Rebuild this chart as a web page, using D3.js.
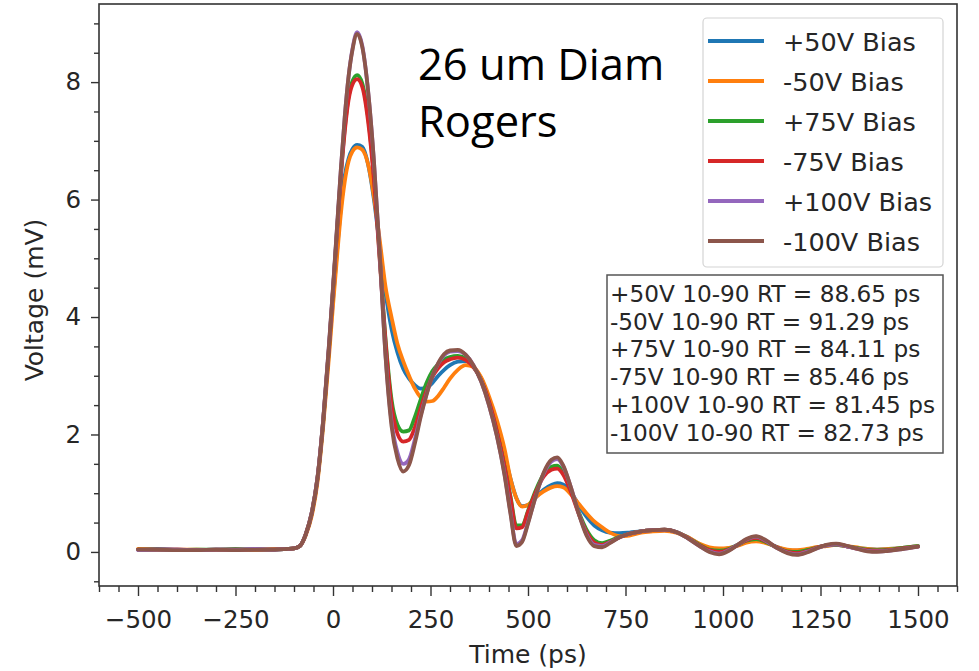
<!DOCTYPE html>
<html>
<head>
<meta charset="utf-8">
<script src="https://cdn.jsdelivr.net/npm/d3@7"></script>
<style>
  html, body { margin: 0; padding: 0; background: #fff; }
  svg { display: block; }
</style>
</head>
<body>
<svg id="chart" width="979" height="671"></svg>
<script>
// ---------- DATA ----------
const time = [-500,-450,-400,-350,-300,-250,-200,-150,-120,-100,-85,-70,-55,-40,-25,-10,
  0,10,20,30,40,50,62,75,90,105,120,135,150,165,180,195,210,225,240,255,270,285,300,
  320,340,360,380,400,420,440,455,470,485,500,520,540,560,575,590,610,630,650,670,690,710,735,760,790,820,
  850,880,910,940,965,990,1015,1040,1060,1085,1110,1140,1165,1190,1215,1240,1265,1290,1315,1340,1370,1395,1425,1460,1500];

const seriesNames = ["+50V Bias", "-50V Bias", "+75V Bias", "-75V Bias", "+100V Bias", "-100V Bias"];

const plus50 = [.04,.05,.04,.03,.04,.04,.05,.04,.05,.06,.1,.29,.63,1.22,2.2,3.45,
  4.3,5.1,5.85,6.4,6.7,6.86,6.93,6.9,6.6,6.0,5.2,4.4,3.8,3.4,3.12,2.95,2.84,2.78,2.8,2.88,3.0,3.1,3.18,
  3.24,3.25,3.15,2.95,2.6,2.15,1.65,1.25,0.92,0.78,0.8,0.93,1.06,1.14,1.17,1.15,1.02,0.8,0.6,0.45,0.37,0.33,0.32,0.33,0.35,0.36,
  .37,.34,.25,.13,.06,.04,.06,.12,.17,.2,.16,.08,.03,.02,.04,.08,.11,.12,.1,.07,.05,.04,.05,.07,.1];

const minus50 = [.05,.04,.04,.04,.03,.04,.04,.05,.05,.06,.1,.28,.6,1.18,2.15,3.35,
  4.2,5.0,5.75,6.3,6.65,6.82,6.89,6.85,6.6,6.05,5.3,4.5,4.0,3.55,3.25,3.0,2.78,2.63,2.56,2.57,2.66,2.8,2.95,
  3.1,3.18,3.15,2.97,2.65,2.25,1.75,1.25,0.92,0.77,0.8,0.93,1.03,1.1,1.12,1.1,0.98,0.82,0.66,0.52,0.42,0.33,0.27,0.28,0.33,0.35,
  .36,.33,.25,.14,.08,.06,.07,.11,.16,.18,.15,.08,.04,.03,.05,.08,.1,.12,.1,.08,.05,.04,.05,.07,.1];

const plus75 = [.04,.04,.03,.04,.04,.05,.04,.04,.05,.06,.1,.3,.65,1.25,2.25,3.5,
  4.45,5.45,6.4,7.2,7.75,8.02,8.12,7.98,7.4,6.4,5.0,3.6,2.6,2.17,2.05,2.07,2.3,2.6,2.88,3.08,3.2,3.28,3.32,
  3.34,3.3,3.16,2.92,2.55,2.05,1.45,0.95,0.45,0.45,0.7,1.05,1.32,1.45,1.47,1.36,1.05,0.68,0.38,0.2,0.15,0.19,0.26,0.31,0.35,0.37,
  .38,.34,.24,.12,.04,.02,.05,.13,.19,.22,.17,.07,.01,0,.03,.07,.11,.12,.1,.07,.04,.03,.04,.07,.1];

const minus75 = [.04,.04,.04,.03,.04,.04,.04,.04,.05,.06,.1,.3,.65,1.25,2.25,3.5,
  4.45,5.42,6.38,7.15,7.7,7.96,8.05,7.92,7.33,6.33,4.95,3.55,2.5,2.02,1.88,1.91,2.12,2.45,2.75,2.98,3.13,3.23,3.28,
  3.31,3.27,3.15,2.92,2.56,2.06,1.45,0.92,0.4,0.42,0.68,1.02,1.28,1.4,1.42,1.32,1.02,0.65,0.34,0.16,0.12,0.17,0.25,0.31,0.35,0.37,
  .38,.34,.24,.11,.03,0,.04,.13,.2,.24,.18,.07,0,-.02,.01,.07,.11,.13,.1,.06,.03,.02,.03,.06,.09];

const plus100 = [.03,.04,.04,.03,.04,.04,.05,.04,.05,.06,.1,.3,.66,1.26,2.27,3.56,
  4.5,5.5,6.5,7.4,8.1,8.57,8.85,8.62,7.85,6.65,5.05,3.32,2.22,1.7,1.5,1.58,1.92,2.33,2.69,3.0,3.21,3.35,3.41,
  3.42,3.36,3.18,2.9,2.5,1.98,1.32,0.68,0.13,0.2,0.5,0.95,1.33,1.54,1.58,1.46,1.1,0.66,0.3,0.12,0.1,0.16,0.25,0.31,0.35,0.37,
  .38,.34,.23,.1,.01,-.03,.03,.13,.21,.26,.19,.06,-.01,-.04,0,.06,.11,.13,.1,.06,.02,.01,.02,.05,.09];

const minus100 = [.04,.04,.03,.03,.04,.03,.04,.04,.05,.06,.1,.3,.65,1.25,2.25,3.55,
  4.5,5.5,6.5,7.4,8.1,8.55,8.82,8.6,7.85,6.65,5.05,3.3,2.15,1.6,1.37,1.48,1.85,2.3,2.68,3.0,3.22,3.37,3.43,
  3.44,3.36,3.18,2.9,2.5,1.98,1.3,0.65,0.1,0.17,0.48,0.95,1.35,1.57,1.61,1.48,1.1,0.65,0.28,0.1,0.08,0.15,0.25,0.31,0.35,0.37,
  .38,.34,.23,.1,0,-.04,.02,.13,.22,.27,.2,.06,-.02,-.05,-.01,.06,.12,.14,.11,.06,.01,0,.02,.05,.09];

const seriesValues = [plus50, minus50, plus75, minus75, plus100, minus100];
const seriesColors = ["#1f77b4", "#ff7f0e", "#2ca02c", "#d62728", "#9467bd", "#8c564b"];

const riseTimeLabels = [
  "+50V 10-90 RT = 88.65 ps",
  "-50V 10-90 RT = 91.29 ps",
  "+75V 10-90 RT = 84.11 ps",
  "-75V 10-90 RT = 85.46 ps",
  "+100V 10-90 RT = 81.45 ps",
  "-100V 10-90 RT = 82.73 ps"
];

const xTickValues = [-500, -250, 0, 250, 500, 750, 1000, 1250, 1500];
const yTickValues = [0, 2, 4, 6, 8];
const xLabel = "Time (ps)";
const yLabel = "Voltage (mV)";
const titleLines = ["26 um Diam", "Rogers"];

// ---------- LAYOUT ----------
const svg = d3.select("#chart");
const L = 99, R = 957, T = 4, B = 586;
const x = d3.scaleLinear().domain([-600, 1600]).range([L, R]);
const y = d3.scaleLinear().domain([-0.58, 9.33]).range([B, T]);
const tickFont = "'DejaVu Sans', sans-serif";
const fmt = v => (v < 0 ? "\u2212" + Math.abs(v) : String(v));

svg.append("defs").append("clipPath").attr("id", "clip")
  .append("rect").attr("x", L).attr("y", T).attr("width", R - L).attr("height", B - T);

const line = d3.line()
  .x(d => x(d[0]))
  .y(d => y(d[1]))
  .curve(d3.curveMonotoneX);

const gLines = svg.append("g").attr("clip-path", "url(#clip)");
seriesValues.forEach((vals, i) => {
  const pts = time.map((t, k) => [t, vals[k]]).filter(d => d[1] !== undefined);
  gLines.append("path")
    .datum(pts)
    .attr("fill", "none")
    .attr("stroke", seriesColors[i])
    .attr("stroke-width", 3.8)
    .attr("stroke-linejoin", "round")
    .attr("stroke-linecap", "round")
    .attr("d", line);
});

const xMinor = d3.range(-600, 1601, 50).filter(v => v % 250 !== 0);
const yMinor = d3.range(-0.5, 9.01, 0.5).filter(v => Math.abs(v % 2) > 1e-9);

svg.append("g").attr("transform", `translate(0,${B})`)
  .call(d3.axisBottom(x).tickValues(xTickValues).tickFormat(fmt).tickSize(10).tickPadding(15));
svg.append("g").attr("transform", `translate(0,${B})`)
  .call(d3.axisBottom(x).tickValues(xMinor).tickFormat("").tickSize(6));

svg.append("g").attr("transform", `translate(${L},0)`)
  .call(d3.axisLeft(y).tickValues(yTickValues).tickFormat(fmt).tickSize(8).tickPadding(10));
svg.append("g").attr("transform", `translate(${L},0)`)
  .call(d3.axisLeft(y).tickValues(yMinor).tickFormat("").tickSize(5));

svg.selectAll(".tick line").attr("stroke", "#333").attr("stroke-width", 1.4);
svg.selectAll(".domain").remove();
svg.selectAll(".tick text")
  .attr("font-family", tickFont).attr("font-size", 24.5).attr("fill", "#262626");

svg.append("rect").attr("x", L).attr("y", T).attr("width", R - L).attr("height", B - T)
  .attr("fill", "none").attr("stroke", "#333").attr("stroke-width", 1.6);

svg.append("text").attr("x", (L + R) / 2).attr("y", 663)
  .attr("text-anchor", "middle").attr("font-family", tickFont).attr("font-size", 25)
  .attr("fill", "#262626").text(xLabel);
svg.append("text")
  .attr("transform", `translate(43,300) rotate(-90)`)
  .attr("text-anchor", "middle").attr("font-family", tickFont).attr("font-size", 25)
  .attr("fill", "#262626").text(yLabel);

// legend
const lg = svg.append("g");
lg.append("rect").attr("x", 703).attr("y", 18).attr("width", 240).attr("height", 249)
  .attr("rx", 4).attr("fill", "#fff").attr("fill-opacity", 0.85)
  .attr("stroke", "#d4d4d4").attr("stroke-width", 1.2);
seriesNames.forEach((name, i) => {
  const yy = 41 + i * 40;
  lg.append("line").attr("x1", 708).attr("x2", 764).attr("y1", yy).attr("y2", yy)
    .attr("stroke", seriesColors[i]).attr("stroke-width", 3.8);
  lg.append("text").attr("x", 783).attr("y", yy + 10)
    .attr("font-family", tickFont).attr("font-size", 25.5).attr("fill", "#262626").text(name);
});

// rise time box
const rb = svg.append("g");
rb.append("rect").attr("x", 607).attr("y", 275).attr("width", 336).attr("height", 178)
  .attr("fill", "#fff").attr("stroke", "#555").attr("stroke-width", 1.5);
riseTimeLabels.forEach((s, i) => {
  rb.append("text").attr("x", 610).attr("y", 302 + i * 27.7)
    .attr("font-family", tickFont).attr("font-size", 23.2).attr("fill", "#262626").text(s);
});

// title text
titleLines.forEach((s, i) => {
  svg.append("text").attr("x", 418).attr("y", 80 + i * 57)
    .attr("font-family", "'Open Sans', sans-serif").attr("font-size", 43.5)
    .attr("fill", "#000").text(s);
});
</script>
</body>
</html>
